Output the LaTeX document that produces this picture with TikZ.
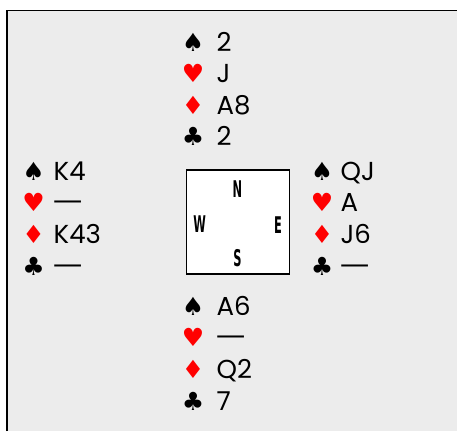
\documentclass[tikz,border=0pt]{standalone}
\usepackage{fontspec, graphicx}
\setmainfont{Poppins}
\newfontfamily\suitfont{DejaVu Sans}
\newfontfamily\dirfamily{DejaVu Sans Condensed}[BoldFont={DejaVu Sans Condensed Bold}]
\definecolor{tablegray}{HTML}{ECECEC}
\newcommand{\spd}{{\suitfont ♠}}
\newcommand{\hrt}{{\suitfont\color{red}♥}}
\newcommand{\dmd}{{\suitfont\color{red}♦}}
\newcommand{\clb}{{\suitfont ♣}}
\newcommand{\void}{\scalebox{1.4}[1]{—}}
\newcommand{\dirtext}[1]{\scalebox{0.55}[1]{\dirfamily\bfseries #1}}
\tikzstyle{suit}=[anchor=base, inner sep=0pt, font=\fontsize{25}{25}\selectfont]
\tikzstyle{cards}=[anchor=base west, inner sep=0pt, font=\fontsize{26}{26}\selectfont]
\tikzstyle{seat}=[inner sep=0pt, font=\fontsize{23}{23}\selectfont]

\begin{document}
\begin{tikzpicture}[x=1pt, y=-1pt]
    \useasboundingbox (0,0) rectangle (457,431);
    \fill[tablegray] (7,10.5) rectangle (457,431);
    \draw[line width=1.5pt] (7,431) -- (7,10.5) -- (457,10.5);
    % compass
    \node[draw, fill=white, line width=1.1pt, minimum width=103pt, minimum height=104pt, inner sep=0pt] (table) at (237.7,222) {};
    \node[seat] (N) at (237.5,188.7) {\dirtext{N}};
    \node[seat] (W) at (199.7,224.5) {\dirtext{W}};
    \node[seat] (E) at (278,225) {\dirtext{E}};
    \node[seat] (S) at (237.5,258.3) {\dirtext{S}};
    % north
    \node[suit] (ns) at (193,51) {\spd};
    \node[suit] (nh) at (193,82.5) {\hrt};
    \node[suit] (nd) at (193,114) {\dmd};
    \node[suit] (nc) at (193,145.5) {\clb};
    \node[cards] (nsc) at (216.5,51) {2};
    \node[cards] (nhc) at (216.5,82.5) {J};
    \node[cards] (ndc) at (216.5,114) {A8};
    \node[cards] (ncc) at (216.5,145.5) {2};
    % west
    \node[suit] (ws) at (33.5,180) {\spd};
    \node[suit] (wh) at (33.5,211.7) {\hrt};
    \node[suit] (wd) at (33.5,243.4) {\dmd};
    \node[suit] (wc) at (33.5,275.1) {\clb};
    \node[cards] (wsc) at (53.5,180) {K4};
    \node[cards] (whc) at (51.5,211.7) {\void};
    \node[cards] (wdc) at (53.5,243.4) {K43};
    \node[cards] (wcc) at (51.5,275.1) {\void};
    % east
    \node[suit] (es) at (322,180) {\spd};
    \node[suit] (eh) at (322,211.7) {\hrt};
    \node[suit] (ed) at (322,243.4) {\dmd};
    \node[suit] (ec) at (322,275.1) {\clb};
    \node[cards] (esc) at (340.5,180) {QJ};
    \node[cards] (ehc) at (340.5,211.7) {A};
    \node[cards] (edc) at (340.5,243.4) {J6};
    \node[cards] (ecc) at (338.5,275.1) {\void};
    % south
    \node[suit] (ss) at (193,315) {\spd};
    \node[suit] (sh) at (193,346.7) {\hrt};
    \node[suit] (sd) at (193,378.4) {\dmd};
    \node[suit] (sc) at (193,410.1) {\clb};
    \node[cards] (ssc) at (216.5,315) {A6};
    \node[cards] (shc) at (214.5,346.7) {\void};
    \node[cards] (sdc) at (216.5,378.4) {Q2};
    \node[cards] (scc) at (216.5,410.1) {7};
\end{tikzpicture}
\end{document}
